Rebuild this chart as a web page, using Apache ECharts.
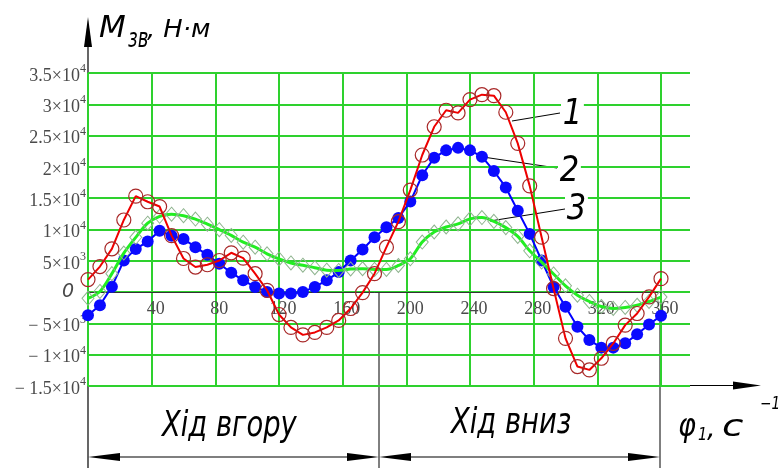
<!DOCTYPE html>
<html>
<head>
<meta charset="utf-8">
<script src="https://cdn.jsdelivr.net/npm/echarts@6/dist/echarts.min.js"></script>
<style>
  html, body { margin: 0; padding: 0; background: #fff; }
  #chart { width: 782px; height: 468px; }
</style>
</head>
<body>
<div id="chart"></div>
<script>
// crank angle, degrees
var angles = [0, 7.5, 15, 22.5, 30, 37.5, 45, 52.5, 60, 67.5, 75, 82.5, 90, 97.5, 105, 112.5,
  120, 127.5, 135, 142.5, 150, 157.5, 165, 172.5, 180, 187.5, 195, 202.5, 210, 217.5, 225, 232.5,
  240, 247.5, 255, 262.5, 270, 277.5, 285, 292.5, 300, 307.5, 315, 322.5, 330, 337.5, 345, 352.5, 360];

// curve 1 (red, open circles)
var curve1 = [2000, 4080, 6910, 11520, 15330, 14430, 13670, 9025, 5370, 4000, 4370, 5050, 6280, 5430, 2940, 290,
  -3580, -5640, -6830, -6440, -5640, -4530, -2620, -80, 2940, 7180, 11250, 16300, 21900, 26410, 29050, 28630,
  30750, 31540, 31380, 28730, 23760, 16970, 8770, 560, -7390, -11890, -12430, -10570, -8200, -5280, -3420, -760, 2150];

// curve 2 (blue, filled dots)
var curve2 = [-3700, -2100, 870, 5050, 6900, 8070, 9800, 9000, 8500, 7180, 5960, 4530, 3100, 1880, 830, 30,
  -240, -240, 30, 830, 1880, 3200, 5050, 6800, 8770, 10360, 11840, 14460, 18670, 21480, 22640, 23040,
  22640, 21640, 19350, 16720, 13000, 9300, 5050, 830, -2350, -5530, -7660, -8870, -8870, -8180, -6750, -5160, -3780];

// curve 3 (green, open diamonds)
var curve3 = [-1000, 100, 2950, 6230, 8750, 11000, 12100, 12450, 12200, 11660, 10850, 9970, 9050, 7970, 7180, 6120,
  5300, 4650, 4300, 3900, 3500, 3460, 3700, 3730, 3620, 3620, 4250, 5320, 8000, 9600, 10400, 10900,
  11700, 11900, 11300, 10300, 8900, 6600, 4800, 2900, 1000, -500, -1500, -2300, -2600, -2450, -2100, -1500, -800];

// y tick labels: mantissa and power of ten
var yTickValues = [35000, 30000, 25000, 20000, 15000, 10000, 5000, 0, -5000, -10000, -15000];
var yTickMant = ['3.5', '3', '2.5', '2', '1.5', '1', '5', '0', '\u2212 5', '\u2212 1', '\u2212 1.5'];
var yTickExp = ['4', '4', '4', '4', '4', '4', '3', '', '3', '4', '4'];

var GRID = '#2ed12e';
var SERIF = "'Liberation Serif', 'Times New Roman', serif";
var HAND = "'DejaVu Sans', sans-serif";
var INK = '#4a4a4a';

function pairs(ys) {
  var out = [];
  for (var i = 0; i < angles.length; i++) out.push([angles[i], ys[i]]);
  return out;
}

function yLabel(v) {
  var i = yTickValues.indexOf(v);
  if (i < 0) return '';
  if (yTickExp[i] === '') return '{z|' + yTickMant[i] + '}';
  return '{n|' + yTickMant[i] + '\u00d710}{s|' + yTickExp[i] + '}';
}

function arrowHead(tipX, tipY, dir, len, half) {
  return {
    type: 'polygon',
    shape: { points: [[tipX, tipY], [tipX - dir * len, tipY - half], [tipX - dir * len, tipY + half]] },
    style: { fill: '#000' }, silent: true
  };
}

function line(x1, y1, x2, y2, w) {
  return { type: 'line', shape: { x1: x1, y1: y1, x2: x2, y2: y2 },
    style: { stroke: '#000', lineWidth: w || 1 }, silent: true };
}

// thin, narrow italic drafting lettering
function label(x, y, text, size, sx, bg) {
  var st = { x: 0, y: 0, text: text, fill: '#000',
    font: 'italic 200 ' + size + 'px ' + HAND, verticalAlign: 'top' };
  if (bg) { st.backgroundColor = '#fff'; st.padding = [2, 2, 0, 2]; }
  return { type: 'text', x: x, y: y, scaleX: sx || 1, style: st, silent: true, z: 100 };
}

var chart = echarts.init(document.getElementById('chart'));

var option = {
  animation: false,
  backgroundColor: '#fff',
  grid: [
    { left: 88, right: 92, top: 73, bottom: 82 },
    { left: 88, right: 121, top: 73, bottom: 82 }
  ],
  xAxis: [
    { gridIndex: 0, type: 'value', min: 0, max: 1, show: false },
    {
      gridIndex: 1, type: 'value', min: 0, max: 360, interval: 40,
      position: 'bottom', offset: -93.9,
      axisLine: { onZero: false, lineStyle: { color: '#333', width: 1 } },
      axisTick: { show: false },
      splitLine: { show: true, lineStyle: { color: GRID, width: 2 } },
      axisLabel: {
        showMinLabel: false, margin: 8, padding: [0, 0, 0, 8],
        fontFamily: SERIF, fontSize: 18, color: INK
      }
    }
  ],
  yAxis: [
    {
      gridIndex: 0, type: 'value', min: -15000, max: 35000, interval: 5000,
      axisLine: { show: false },
      axisTick: { show: false },
      splitLine: { show: true, lineStyle: { color: GRID, width: 2 } },
      axisLabel: {
        margin: 2, formatter: yLabel,
        rich: {
          n: { fontFamily: SERIF, fontSize: 18, color: INK, lineHeight: 20, padding: [6, 0, 0, 0] },
          s: { fontFamily: SERIF, fontSize: 12, color: INK, lineHeight: 13, verticalAlign: 'top' },
          z: { fontFamily: HAND, fontStyle: 'italic', fontWeight: 200, fontSize: 19, color: INK, lineHeight: 20, padding: [0, 12, 0, 0] }
        }
      }
    },
    { gridIndex: 1, type: 'value', min: -15000, max: 35000, interval: 5000, show: false }
  ],
  series: [
    {
      name: '2', type: 'line', xAxisIndex: 1, yAxisIndex: 1,
      data: pairs(curve2),
      symbol: 'circle', symbolSize: 12,
      lineStyle: { color: '#0000ff', width: 2 },
      itemStyle: { color: '#0a0aff' },
      z: 3
    },
    {
      name: '3', type: 'line', xAxisIndex: 1, yAxisIndex: 1,
      data: pairs(curve3), smooth: 0.3,
      symbol: 'diamond', symbolSize: [12, 14],
      lineStyle: { color: '#22ee22', width: 3 },
      itemStyle: { color: 'rgba(0,0,0,0)', borderColor: '#8fb48f', borderWidth: 1 },
      z: 4
    },
    {
      name: '1', type: 'line', xAxisIndex: 1, yAxisIndex: 1,
      data: pairs(curve1),
      symbol: 'circle', symbolSize: 14,
      lineStyle: { color: '#ee0000', width: 2 },
      itemStyle: { color: 'rgba(0,0,0,0)', borderColor: '#a82828', borderWidth: 1.2 },
      z: 5
    }
  ],
  graphic: [
    // y axis with arrow
    line(88, 30, 88, 468, 1.2),
    { type: 'polygon', shape: { points: [[88, 17], [84, 47], [92, 47]] }, style: { fill: '#000' }, silent: true },
    // bottom axis with arrow
    line(88, 385.5, 740, 385.5, 1.2),
    arrowHead(761, 385.5, 1, 28, 4),
    // stroke separators
    line(379, 293, 379, 468, 1),
    line(660, 318, 660, 468, 1),
    // double arrows
    line(100, 457, 370, 457, 1.2),
    arrowHead(88, 457, -1, 32, 4),
    arrowHead(379, 457, 1, 32, 4),
    line(390, 457, 650, 457, 1.2),
    arrowHead(379, 457, -1, 32, 4),
    arrowHead(660, 457, 1, 32, 4),
    // leader lines
    line(512, 121, 560, 113, 1),
    line(483, 157, 557, 168, 1),
    line(490, 221, 565, 209, 1),
    // curve numbers
    label(561, 95, '1', 36, 0.85, true),
    label(558, 152, '2', 36, 0.85, true),
    label(565, 190, '3', 36, 0.85, true),
    // axis titles
    label(99, 13, 'M', 31, 1),
    label(128, 27, '\u0437\u0432', 26, 0.7),
    label(147, 18, ', \u041d\u00b7\u043c', 25, 1.03),
    label(162, 409, '\u0425\u0456\u0434 \u0432\u0433\u043e\u0440\u0443', 36, 0.76),
    label(451, 406, '\u0425\u0456\u0434 \u0432\u043d\u0438\u0437', 36, 0.76),
    label(678, 412, '\u03c6', 32, 0.85),
    label(698, 427, '1', 17, 0.85),
    label(707, 416, ',', 27, 1),
    label(722, 413, '\u0441', 30, 1.3),
    label(760, 396, '\u22121', 17, 0.8)
  ]
};

chart.setOption(option);
</script>
</body>
</html>
